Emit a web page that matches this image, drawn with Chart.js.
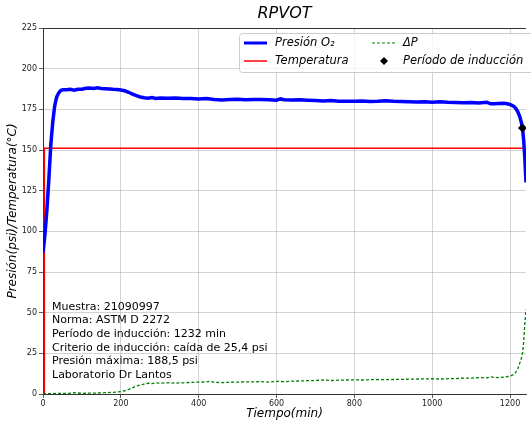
<!DOCTYPE html>
<html>
<head>
<meta charset="utf-8">
<script src="https://cdn.jsdelivr.net/npm/chart.js@4"></script>
<style>
  body { margin: 0; background: #fff; }
  #wrap { width: 531px; height: 424px; position: relative; }
</style>
</head>
<body>
<div id="wrap"><canvas id="rpvot"></canvas></div>
<script>
// Presion O2 (psi) vs tiempo (min)
const tiempoP = [0, 5, 10, 15, 20, 25, 30, 35, 40, 45, 50, 60, 70, 80, 90, 100, 110, 120, 130, 140, 150, 160, 170, 180, 190, 200,
  210, 220, 230, 240, 250, 260, 270, 280, 290, 300, 320, 340, 360, 380, 400, 420, 440, 460, 480, 500, 520, 540, 560, 580, 600,
  610, 620, 640, 660, 680, 700, 720, 740, 760, 780, 800, 820, 840, 860, 880, 900, 920, 940, 960, 980, 1000, 1020, 1040, 1060,
  1080, 1100, 1120, 1140, 1150, 1160, 1180, 1190, 1200, 1210, 1215, 1220, 1225, 1229, 1232, 1235, 1238, 1241];
const presion = [87, 98, 113, 132, 153, 167, 177, 182.5, 185, 186.5, 187, 187, 187.3, 186.8, 187.3, 187.4, 187.9, 188.1, 187.8, 188.2, 187.8, 187.7, 187.5, 187.3, 187.2, 186.9,
  186.4, 185.5, 184.4, 183.4, 182.6, 182.1, 181.8, 182.2, 181.7, 181.9, 181.8, 182.0, 181.6, 181.7, 181.3, 181.6, 181.0, 180.8, 181.0, 181.2, 180.9, 181.0, 181.1, 180.9, 180.6,
  181.4, 180.9, 180.8, 180.9, 180.6, 180.4, 180.2, 180.5, 180.0, 179.9, 180.0, 180.1, 179.8, 179.9, 180.3, 179.9, 179.8, 179.7, 179.5, 179.6, 179.4, 179.6, 179.3, 179.2,
  179.0, 179.2, 178.9, 179.4, 178.4, 178.5, 178.8, 178.6, 178.0, 176.8, 175.5, 173.5, 170.5, 167, 163.5, 156, 145, 130];

// Delta P (psi)
const tiempoD = [0, 20, 40, 60, 80, 100, 120, 140, 160, 180, 200, 210, 220, 230, 240, 250, 260, 270, 280, 290, 300, 320, 340, 360, 380, 400,
  420, 430, 440, 460, 480, 500, 520, 540, 560, 580, 600, 620, 640, 660, 680, 700, 720, 740, 760, 780, 800, 820, 840, 860, 880, 900,
  920, 940, 960, 980, 1000, 1020, 1040, 1060, 1080, 1100, 1120, 1140, 1150, 1160, 1170, 1180, 1190, 1200, 1210, 1215, 1220, 1225,
  1229, 1232, 1235, 1238, 1241];
const deltaP = [0.3, 0.2, 0.4, 0.3, 0.8, 0.4, 0.5, 0.6, 0.8, 1.0, 1.5, 2.0, 2.8, 3.8, 4.9, 5.6, 6.1, 6.6, 6.4, 6.9, 6.7, 6.9, 6.7, 6.9, 7.1, 7.3,
  7.4, 7.8, 7.2, 7.0, 7.2, 7.3, 7.5, 7.5, 7.6, 7.3, 7.8, 7.6, 7.9, 8.0, 8.2, 8.3, 8.6, 8.3, 8.5, 8.6, 8.7, 8.6, 8.8, 8.9, 8.8, 8.9,
  9.0, 9.1, 9.2, 9.3, 9.4, 9.2, 9.4, 9.4, 9.8, 9.8, 10.1, 9.9, 10.5, 10.2, 10.1, 10.3, 10.6, 11.0, 12.0, 13.5, 15.5, 19,
  22, 25, 32, 43, 52];

// Temperatura (ºC)
const tiempoT = [3, 3.5, 1237];
const temperatura = [0, 151, 151];

// Periodo de induccion
const tiempoInd = [1232];
const presionInd = [163.5];

const xTicks = [0, 200, 400, 600, 800, 1000, 1200];
const infoLines = [
  "Muestra: 21090997",
  "Norma: ASTM D 2272",
  "Período de inducción: 1232 min",
  "Criterio de inducción: caída de 25,4 psi",
  "Presión máxima: 188,5 psi",
  "Laboratorio Dr Lantos"
];

function pts(xs, ys) {
  return xs.map((x, i) => ({ x: x, y: ys[i] }));
}

const FONT = "'DejaVu Sans', sans-serif";

// title, frame, legend box and text box
const extras = {
  id: "extras",
  afterDraw(chart) {
    const ctx = chart.ctx;
    const a = chart.chartArea;
    ctx.save();
    // frame
    ctx.strokeStyle = "#333";
    ctx.lineWidth = 1;
    ctx.beginPath();
    ctx.moveTo(a.left, a.top + 0.5);
    ctx.lineTo(a.right, a.top + 0.5);
    ctx.stroke();

    // title
    ctx.fillStyle = "#000";
    ctx.font = "italic 16px " + FONT;
    ctx.textAlign = "center";
    ctx.textBaseline = "middle";
    ctx.fillText("RPVOT", (a.left + a.right) / 2, 14);

    // legend
    const lx = a.left + 196, ly = a.top + 5;
    ctx.fillStyle = "rgba(255,255,255,0.8)";
    ctx.strokeStyle = "#ccc";
    ctx.lineWidth = 1;
    ctx.beginPath();
    ctx.roundRect(lx + 0.5, ly + 0.5, 320, 39, 3);
    ctx.fill();
    ctx.stroke();
    const r1 = ly + 10, r2 = ly + 28;
    ctx.lineWidth = 3;
    ctx.strokeStyle = "#0000ff";
    ctx.beginPath(); ctx.moveTo(lx + 5, r1); ctx.lineTo(lx + 28, r1); ctx.stroke();
    ctx.lineWidth = 1.5;
    ctx.strokeStyle = "#ff0000";
    ctx.beginPath(); ctx.moveTo(lx + 5, r2); ctx.lineTo(lx + 28, r2); ctx.stroke();
    ctx.lineWidth = 1.2;
    ctx.strokeStyle = "#008000";
    ctx.setLineDash([3, 2]);
    ctx.beginPath(); ctx.moveTo(lx + 133, r1); ctx.lineTo(lx + 156, r1); ctx.stroke();
    ctx.setLineDash([]);
    ctx.fillStyle = "#000";
    ctx.beginPath();
    ctx.moveTo(lx + 145, r2 - 4); ctx.lineTo(lx + 149, r2);
    ctx.lineTo(lx + 145, r2 + 4); ctx.lineTo(lx + 141, r2);
    ctx.closePath(); ctx.fill();
    ctx.font = "italic 11.5px " + FONT;
    ctx.textAlign = "left";
    ctx.fillText("Presión O₂", lx + 36, r1);
    ctx.fillText("Temperatura", lx + 36, r2);
    ctx.fillText("ΔP", lx + 164, r1);
    ctx.fillText("Período de inducción", lx + 164, r2);

    // info text
    ctx.font = "11px " + FONT;
    ctx.fillStyle = "#000";
    infoLines.forEach((t, i) => ctx.fillText(t, a.left + 9, 307 + i * 13.6));
    ctx.restore();
  }
};

new Chart("rpvot", {
  type: "scatter",
  data: {
    datasets: [
      {
        label: "Período de inducción",
        data: pts(tiempoInd, presionInd),
        pointStyle: "rectRot",
        pointRadius: 4,
        backgroundColor: "#000",
        borderColor: "#000",
        order: 0
      },
      {
        label: "ΔP",
        data: pts(tiempoD, deltaP),
        showLine: true,
        borderColor: "#008000",
        borderWidth: 1.3,
        borderDash: [3, 2],
        pointRadius: 0,
        order: 1
      },
      {
        label: "Presión O₂",
        data: pts(tiempoP, presion),
        showLine: true,
        borderColor: "#0000ff",
        borderWidth: 3.5,
        pointRadius: 0,
        order: 2
      },
      {
        label: "Temperatura",
        data: pts(tiempoT, temperatura),
        showLine: true,
        borderColor: "#ff0000",
        borderWidth: 1.5,
        pointRadius: 0,
        order: 3
      }
    ]
  },
  options: {
    responsive: true,
    maintainAspectRatio: false,
    animation: false,
    layout: { padding: { top: 28, right: 0, left: 0, bottom: 0 } },
    plugins: {
      legend: { display: false },
      tooltip: { enabled: false }
    },
    scales: {
      x: {
        type: "linear",
        min: 0,
        max: 1241,
        afterBuildTicks: (s) => { s.ticks = xTicks.map(v => ({ value: v })); },
        afterFit: (s) => { s.height = 30; },
        ticks: { font: { family: FONT, size: 8 }, color: "#222", padding: 1, maxRotation: 0, callback: (v) => String(v) },
        grid: { color: "rgba(176,176,176,0.7)", lineWidth: 0.8, tickLength: 4, tickColor: "#333" },
        border: { color: "#333", width: 1 },
        title: { display: true, text: "Tiempo(min)", font: { family: FONT, size: 12, style: "italic" }, color: "#000", padding: { top: 0, bottom: 3 } }
      },
      y: {
        min: 0,
        max: 225,
        afterFit: (s) => { s.width = 43; },
        ticks: { stepSize: 25, font: { family: FONT, size: 8 }, color: "#222", padding: 2 },
        grid: { color: "rgba(176,176,176,0.7)", lineWidth: 0.8, tickLength: 4, tickColor: "#333" },
        border: { color: "#333", width: 1 },
        title: { display: true, text: "Presión(psi)/Temperatura(°C)", font: { family: FONT, size: 12, style: "italic" }, color: "#000", padding: { top: 6, bottom: 0 } }
      }
    }
  },
  plugins: [extras]
});
</script>
</body>
</html>
